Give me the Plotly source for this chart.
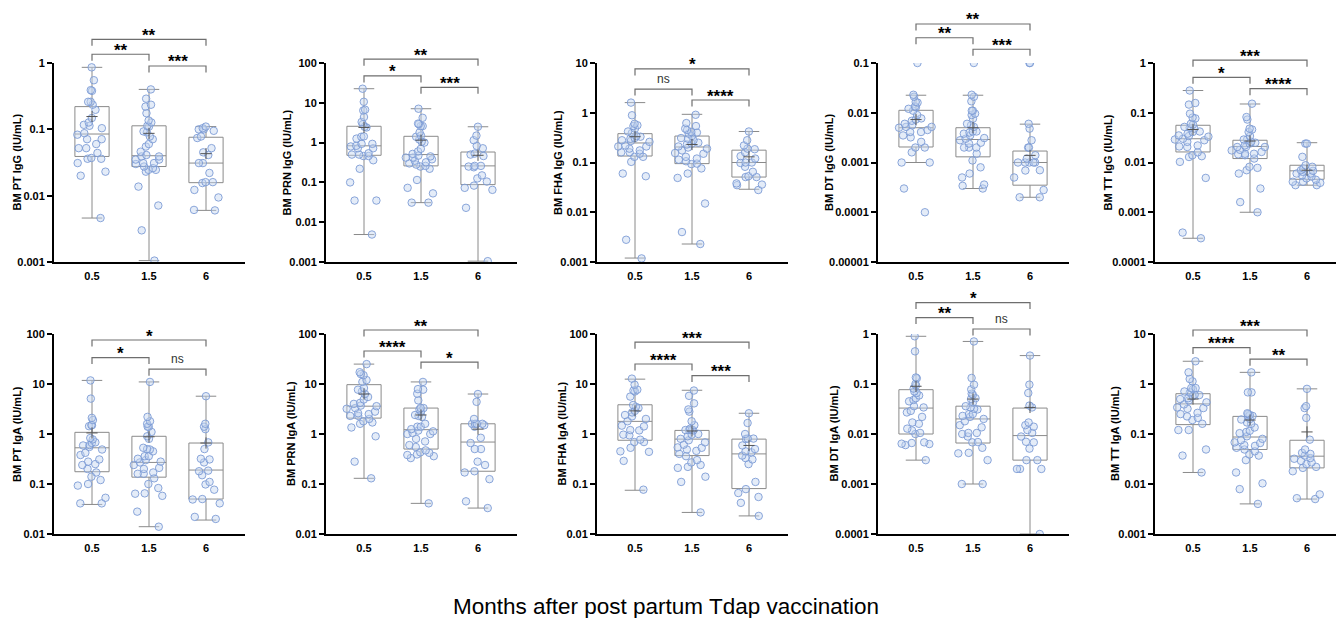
import plotly.graph_objects as go

# ---------------- categories ----------------
months = ["0.5", "1.5", "6"]

# ---------------- BM PT IgG ----------------
pt_igg_05 = [0.86, 0.55, 0.39, 0.38, 0.26, 0.26, 0.235, 0.197, 0.148, 0.127, 0.117, 0.113, 0.104, 0.0875,
             0.083, 0.071, 0.071, 0.06, 0.052, 0.052, 0.044, 0.037, 0.036, 0.036, 0.031, 0.023, 0.020, 0.0046]
pt_igg_15 = [0.40, 0.29, 0.235, 0.22, 0.175, 0.136, 0.127, 0.113, 0.11, 0.093, 0.09, 0.078, 0.071, 0.06, 0.055,
             0.046, 0.041, 0.039, 0.039, 0.035, 0.035, 0.031, 0.031, 0.030, 0.0275, 0.026, 0.0245, 0.0245,
             0.023, 0.0137, 0.0071, 0.0030, 0.00105]
pt_igg_6 = [0.11, 0.104, 0.10, 0.10, 0.095, 0.078, 0.074, 0.052, 0.045, 0.041, 0.031, 0.031, 0.022, 0.016,
            0.016, 0.0155, 0.0122, 0.0094, 0.0061, 0.006]
pt_igg_q1 = [0.039, 0.0275, 0.0157]
pt_igg_med = [0.085, 0.040, 0.031]
pt_igg_q3 = [0.22, 0.113, 0.076]
pt_igg_lo = [0.0046, 0.00105, 0.006]
pt_igg_hi = [0.86, 0.40, 0.11]
pt_igg_mean = [0.156, 0.087, 0.043]
pt_igg_sig = ["**", "**", "***"]

# ---------------- BM PRN IgG ----------------
prn_igg_05 = [22.6, 10.6, 6.7, 6.4, 4.4, 3.3, 2.9, 2.5, 2.4, 1.43, 1.4, 1.26, 0.93, 0.93, 0.83, 0.8, 0.72, 0.72,
              0.54, 0.5, 0.5, 0.46, 0.46, 0.36, 0.22, 0.1, 0.035, 0.035, 0.0049]
prn_igg_15 = [7.1, 4.2, 3.0, 2.9, 2.6, 2.6, 1.8, 1.5, 1.4, 1.2, 1.05, 1.0, 0.7, 0.6, 0.52, 0.47, 0.45, 0.42, 0.42,
              0.38, 0.35, 0.32, 0.30, 0.28, 0.26, 0.25, 0.22, 0.115, 0.073, 0.053, 0.031, 0.031]
prn_igg_6 = [2.5, 1.5, 1.15, 0.83, 0.72, 0.53, 0.5, 0.46, 0.26, 0.25, 0.26, 0.24, 0.15, 0.126, 0.105, 0.083,
             0.073, 0.065, 0.023, 0.00105]
prn_igg_q1 = [0.48, 0.26, 0.088]
prn_igg_med = [0.83, 0.50, 0.26]
prn_igg_q3 = [2.57, 1.44, 0.58]
prn_igg_lo = [0.0049, 0.031, 0.00105]
prn_igg_hi = [22.6, 7.1, 2.5]
prn_igg_mean = [2.4, 1.15, 0.48]
prn_igg_sig = ["**", "*", "***"]

# ---------------- BM FHA IgG ----------------
fha_igg_05 = [1.6, 0.89, 0.6, 0.56, 0.54, 0.48, 0.42, 0.39, 0.34, 0.33, 0.31, 0.30, 0.28, 0.27, 0.26, 0.22, 0.21,
              0.21, 0.19, 0.175, 0.16, 0.16, 0.15, 0.13, 0.13, 0.103, 0.06, 0.053, 0.0028, 0.00118]
fha_igg_15 = [0.91, 0.62, 0.54, 0.48, 0.45, 0.41, 0.40, 0.38, 0.34, 0.31, 0.30, 0.28, 0.25, 0.24, 0.23, 0.21, 0.2,
              0.19, 0.175, 0.155, 0.15, 0.13, 0.12, 0.114, 0.106, 0.095, 0.093, 0.076, 0.06, 0.049, 0.015,
              0.004, 0.0023]
fha_igg_6 = [0.42, 0.28, 0.22, 0.19, 0.185, 0.16, 0.134, 0.12, 0.1, 0.1, 0.098, 0.082, 0.065, 0.053, 0.051, 0.051,
             0.038, 0.036, 0.035, 0.028]
fha_igg_q1 = [0.135, 0.095, 0.051]
fha_igg_med = [0.247, 0.205, 0.10]
fha_igg_q3 = [0.38, 0.34, 0.177]
fha_igg_lo = [0.0012, 0.0023, 0.029]
fha_igg_hi = [1.6, 0.93, 0.42]
fha_igg_mean = [0.33, 0.23, 0.13]
fha_igg_sig = ["*", "ns", "****"]

# ---------------- BM DT IgG ----------------
dt_igg_05 = [0.1, 0.023, 0.021, 0.0165, 0.016, 0.0134, 0.013, 0.012, 0.011, 0.009, 0.0077, 0.0073, 0.0069, 0.006,
             0.0056, 0.0052, 0.005, 0.0052, 0.0045, 0.0041, 0.0041, 0.0035, 0.0032, 0.0026, 0.002, 0.002, 0.0016,
             0.001, 0.001, 0.0003, 0.0001]
dt_igg_15 = [0.1, 0.023, 0.021, 0.017, 0.011, 0.011, 0.0096, 0.009, 0.0076, 0.006, 0.0056, 0.0052, 0.0042, 0.0042,
             0.004, 0.0038, 0.0035, 0.0031, 0.003, 0.0028, 0.0025, 0.0024, 0.002, 0.002, 0.002, 0.0015, 0.0011,
             0.0008, 0.0006, 0.0005, 0.00036, 0.00034, 0.0003]
dt_igg_6 = [0.1, 0.1, 0.006, 0.0048, 0.0028, 0.002, 0.002, 0.0014, 0.0012, 0.001, 0.001, 0.001, 0.001, 0.001,
            0.00069, 0.0007, 0.0005, 0.00028, 0.0002, 0.0002]
dt_igg_q1 = [0.00205, 0.0013, 0.00035]
dt_igg_med = [0.005, 0.0029, 0.001]
dt_igg_q3 = [0.0112, 0.005, 0.0017]
dt_igg_lo = [0.001, 0.0003, 0.0002]
dt_igg_hi = [0.0225, 0.0225, 0.0059]
dt_igg_mean = [0.0073, 0.005, 0.00139]
dt_igg_sig = ["**", "**", "***"]

# ---------------- BM TT IgG ----------------
tt_igg_05 = [0.28, 0.157, 0.146, 0.096, 0.08, 0.077, 0.06, 0.058, 0.052, 0.05, 0.048, 0.042, 0.041, 0.038, 0.035,
             0.034, 0.033, 0.030, 0.029, 0.028, 0.026, 0.022, 0.021, 0.0205, 0.016, 0.014, 0.0134, 0.0129,
             0.0103, 0.0049, 0.00039, 0.0003]
tt_igg_15 = [0.152, 0.082, 0.073, 0.048, 0.046, 0.041, 0.034, 0.029, 0.029, 0.026, 0.025, 0.024, 0.022, 0.0205,
             0.0205, 0.0205, 0.018, 0.0175, 0.0163, 0.015, 0.015, 0.0146, 0.014, 0.012, 0.0082, 0.0078, 0.007,
             0.006, 0.003, 0.0016, 0.001]
tt_igg_6 = [0.024, 0.024, 0.013, 0.0088, 0.0082, 0.0076, 0.007, 0.0068, 0.0065, 0.006, 0.006, 0.0055, 0.0052,
            0.0048, 0.0045, 0.0041, 0.0041, 0.0039, 0.0035, 0.0035]
tt_igg_q1 = [0.0163, 0.012, 0.0046]
tt_igg_med = [0.030, 0.021, 0.0068]
tt_igg_q3 = [0.056, 0.028, 0.0088]
tt_igg_lo = [0.0003, 0.001, 0.0035]
tt_igg_hi = [0.28, 0.15, 0.025]
tt_igg_mean = [0.046, 0.027, 0.007]
tt_igg_sig = ["***", "*", "****"]

# ---------------- BM PT IgA ----------------
pt_iga_05 = [11.8, 5.1, 2.1, 1.9, 1.5, 1.5, 1.43, 0.83, 0.78, 0.68, 0.66, 0.6, 0.59, 0.55, 0.49, 0.42, 0.38, 0.31,
             0.28, 0.25, 0.24, 0.2, 0.17, 0.14, 0.12, 0.1, 0.093, 0.053, 0.041, 0.041]
pt_iga_15 = [11.0, 2.2, 1.8, 1.6, 1.4, 1.4, 1.1, 0.9, 0.8, 0.53, 0.5, 0.49, 0.45, 0.36, 0.36, 0.32, 0.3, 0.28, 0.27,
             0.24, 0.21, 0.2, 0.17, 0.16, 0.16, 0.13, 0.1, 0.083, 0.065, 0.064, 0.058, 0.028, 0.014]
pt_iga_6 = [5.7, 1.6, 1.4, 1.25, 0.68, 0.5, 0.32, 0.31, 0.27, 0.185, 0.18, 0.15, 0.11, 0.098, 0.077, 0.05, 0.049,
            0.041, 0.022, 0.02]
pt_iga_q1 = [0.176, 0.137, 0.05]
pt_iga_med = [0.53, 0.27, 0.19]
pt_iga_q3 = [1.08, 0.9, 0.66]
pt_iga_lo = [0.039, 0.014, 0.019]
pt_iga_hi = [11.8, 11.0, 5.7]
pt_iga_mean = [1.05, 0.88, 0.66]
pt_iga_sig = ["*", "*", "ns"]

# ---------------- BM PRN IgA ----------------
prn_iga_05 = [25, 17.2, 15.8, 15, 12, 11, 8.3, 7.7, 7.1, 6.3, 5.5, 4.9, 4.2, 4.0, 3.7, 3.6, 3.3, 3.2, 2.8, 2.6,
              2.5, 2.3, 2.3, 2.0, 1.8, 1.7, 1.6, 1.35, 0.9, 0.28, 0.13]
prn_iga_15 = [11, 7.9, 7.7, 6.4, 4.7, 3.3, 3.3, 3.1, 2.8, 2.4, 2.3, 2.2, 1.6, 1.4, 1.4, 1.25, 1.17, 1.13, 1.05, 1.0,
              1.0, 0.8, 0.71, 0.6, 0.55, 0.47, 0.43, 0.42, 0.39, 0.38, 0.36, 0.33, 0.041]
prn_iga_6 = [6.3, 4.4, 2.0, 1.6, 1.6, 1.6, 1.6, 1.5, 1.4, 0.84, 0.66, 0.5, 0.5, 0.28, 0.24, 0.18, 0.17, 0.125,
             0.045, 0.033]
prn_iga_q1 = [2.08, 0.5, 0.18]
prn_iga_med = [3.6, 1.22, 0.69]
prn_iga_q3 = [9.7, 3.3, 1.6]
prn_iga_lo = [0.13, 0.041, 0.033]
prn_iga_hi = [25, 11, 6.3]
prn_iga_mean = [6.3, 2.4, 1.25]
prn_iga_sig = ["**", "****", "*"]

# ---------------- BM FHA IgA ----------------
fha_iga_05 = [12.8, 9.7, 7.7, 7.4, 7.1, 5.6, 3.8, 3.5, 3.3, 2.9, 2.7, 2.4, 2.25, 2.0, 1.8, 1.47, 1.42, 1.2, 1.18,
              0.97, 0.94, 0.77, 0.69, 0.69, 0.53, 0.45, 0.44, 0.29, 0.077]
fha_iga_15 = [7.4, 5.8, 4.1, 3.1, 2.8, 1.8, 1.5, 1.28, 1.22, 1.2, 1.2, 1.18, 1.0, 0.97, 0.9, 0.8, 0.75, 0.68, 0.61,
              0.54, 0.53, 0.49, 0.46, 0.4, 0.36, 0.3, 0.27, 0.24, 0.22, 0.21, 0.14, 0.11, 0.027]
fha_iga_6 = [2.6, 1.66, 1.0, 0.81, 0.81, 0.8, 0.59, 0.5, 0.45, 0.43, 0.37, 0.33, 0.31, 0.25, 0.11, 0.079, 0.066,
             0.055, 0.042, 0.023]
fha_iga_q1 = [0.75, 0.37, 0.081]
fha_iga_med = [1.79, 0.79, 0.4]
fha_iga_q3 = [3.84, 1.18, 0.79]
fha_iga_lo = [0.075, 0.027, 0.023]
fha_iga_hi = [12.5, 7.5, 2.6]
fha_iga_mean = [2.9, 1.15, 0.59]
fha_iga_sig = ["***", "****", "***"]

# ---------------- BM DT IgA ----------------
dt_iga_05 = [0.9, 0.45, 0.135, 0.13, 0.1, 0.093, 0.081, 0.071, 0.066, 0.059, 0.052, 0.048, 0.045, 0.036, 0.034,
             0.029, 0.027, 0.022, 0.017, 0.016, 0.0128, 0.0118, 0.0105, 0.01, 0.0068, 0.0066, 0.0064, 0.0063,
             0.006, 0.003]
dt_iga_15 = [0.71, 0.132, 0.097, 0.078, 0.064, 0.061, 0.052, 0.05, 0.043, 0.036, 0.034, 0.032, 0.031, 0.025,
             0.025, 0.023, 0.022, 0.02, 0.018, 0.015, 0.0136, 0.0105, 0.0105, 0.01, 0.0089, 0.0069, 0.0068,
             0.0053, 0.0042, 0.0041, 0.003, 0.001, 0.001]
dt_iga_6 = [0.37, 0.097, 0.066, 0.037, 0.034, 0.017, 0.015, 0.014, 0.012, 0.0105, 0.0089, 0.007, 0.0068, 0.0051,
            0.003, 0.003, 0.002, 0.002, 0.002, 0.0001]
dt_iga_q1 = [0.01, 0.0066, 0.003]
dt_iga_med = [0.033, 0.02, 0.0093]
dt_iga_q3 = [0.077, 0.036, 0.033]
dt_iga_lo = [0.003, 0.001, 0.0001]
dt_iga_hi = [0.9, 0.71, 0.37]
dt_iga_mean = [0.09, 0.05, 0.034]
dt_iga_sig = ["*", "**", "ns"]

# ---------------- BM TT IgA ----------------
tt_iga_05 = [2.85, 1.71, 1.26, 1.13, 0.83, 0.83, 0.79, 0.71, 0.68, 0.61, 0.6, 0.57, 0.52, 0.5, 0.47, 0.43, 0.39,
             0.34, 0.33, 0.32, 0.265, 0.25, 0.225, 0.21, 0.19, 0.16, 0.12, 0.12, 0.049, 0.037, 0.017]
tt_iga_15 = [1.71, 0.68, 0.68, 0.26, 0.25, 0.24, 0.23, 0.225, 0.2, 0.195, 0.17, 0.16, 0.135, 0.116, 0.11, 0.104,
             0.09, 0.08, 0.075, 0.068, 0.066, 0.06, 0.058, 0.053, 0.049, 0.045, 0.039, 0.037, 0.03, 0.017,
             0.0103, 0.0079, 0.004]
tt_iga_6 = [0.8, 0.36, 0.33, 0.21, 0.077, 0.049, 0.042, 0.040, 0.037, 0.033, 0.032, 0.029, 0.027, 0.025, 0.022,
            0.021, 0.018, 0.0062, 0.0052, 0.005]
tt_iga_q1 = [0.154, 0.049, 0.021]
tt_iga_med = [0.4, 0.087, 0.036]
tt_iga_q3 = [0.64, 0.225, 0.075]
tt_iga_lo = [0.017, 0.004, 0.005]
tt_iga_hi = [2.85, 1.71, 0.8]
tt_iga_mean = [0.5, 0.19, 0.11]
tt_iga_sig = ["***", "****", "**"]

# y-axis titles and decade ranges (log10)
y_titles = ["BM PT IgG (IU/mL)", "BM PRN IgG (IU/mL)", "BM FHA IgG (IU/mL)", "BM DT IgG (IU/mL)",
            "BM TT IgG (IU/mL)", "BM PT IgA (IU/mL)", "BM PRN IgA (IU/mL)", "BM FHA IgA (IU/mL)",
            "BM DT IgA (IU/mL)", "BM TT IgA (IU/mL)"]
y_exp_lo = [-3, -3, -3, -5, -4, -2, -2, -2, -4, -3]
y_exp_hi = [0, 2, 1, -1, 0, 2, 2, 2, 0, 1]

panels = [
    (pt_igg_05, pt_igg_15, pt_igg_6, pt_igg_q1, pt_igg_med, pt_igg_q3, pt_igg_lo, pt_igg_hi, pt_igg_mean, pt_igg_sig),
    (prn_igg_05, prn_igg_15, prn_igg_6, prn_igg_q1, prn_igg_med, prn_igg_q3, prn_igg_lo, prn_igg_hi, prn_igg_mean, prn_igg_sig),
    (fha_igg_05, fha_igg_15, fha_igg_6, fha_igg_q1, fha_igg_med, fha_igg_q3, fha_igg_lo, fha_igg_hi, fha_igg_mean, fha_igg_sig),
    (dt_igg_05, dt_igg_15, dt_igg_6, dt_igg_q1, dt_igg_med, dt_igg_q3, dt_igg_lo, dt_igg_hi, dt_igg_mean, dt_igg_sig),
    (tt_igg_05, tt_igg_15, tt_igg_6, tt_igg_q1, tt_igg_med, tt_igg_q3, tt_igg_lo, tt_igg_hi, tt_igg_mean, tt_igg_sig),
    (pt_iga_05, pt_iga_15, pt_iga_6, pt_iga_q1, pt_iga_med, pt_iga_q3, pt_iga_lo, pt_iga_hi, pt_iga_mean, pt_iga_sig),
    (prn_iga_05, prn_iga_15, prn_iga_6, prn_iga_q1, prn_iga_med, prn_iga_q3, prn_iga_lo, prn_iga_hi, prn_iga_mean, prn_iga_sig),
    (fha_iga_05, fha_iga_15, fha_iga_6, fha_iga_q1, fha_iga_med, fha_iga_q3, fha_iga_lo, fha_iga_hi, fha_iga_mean, fha_iga_sig),
    (dt_iga_05, dt_iga_15, dt_iga_6, dt_iga_q1, dt_iga_med, dt_iga_q3, dt_iga_lo, dt_iga_hi, dt_iga_mean, dt_iga_sig),
    (tt_iga_05, tt_iga_15, tt_iga_6, tt_iga_q1, tt_iga_med, tt_iga_q3, tt_iga_lo, tt_iga_hi, tt_iga_mean, tt_iga_sig),
]

# ---------------- layout geometry (pixels) ----------------
W, H = 1336, 618
col_left_px = [54, 326, 597, 878, 1155]
axis_len_px = 191
cat_step_px = 57
first_cat_px = 38
row_top_px = [63, 334]
row_bot_px = [262, 534]
title_offset_px = [37, 39, 38.5, 48.5, 47, 37, 35, 35.5, 44.5, 40]
# bracket heights as fraction of plot height: [0.5 vs 6, 0.5 vs 1.5, 1.5 vs 6]
bracket_y = [
    [1.119, 1.044, 0.985], [1.019, 0.935, 0.878], [0.970, 0.869, 0.814], [1.196, 1.127, 1.069],
    [1.014, 0.928, 0.871], [0.970, 0.882, 0.824], [1.020, 0.915, 0.859], [0.959, 0.850, 0.792],
    [1.157, 1.082, 1.025], [1.020, 0.932, 0.874],
]
pairs = [(0, 2), (0, 1), (1, 2)]

FONT = "Liberation Sans, Arial, Helvetica, sans-serif"
BOX_COLOR = "#8a8a8a"
PT_FILL = "rgba(196,212,240,0.45)"
PT_LINE = "rgba(120,152,212,0.85)"
BRACKET_COLOR = "#6e6e6e"


def dec_label(e):
    if e < 0:
        return "0." + "0" * (-e - 1) + "1"
    return str(10 ** e)


fig = go.Figure()
layout_axes = {}
shapes = []
annotations = []

for k, p in enumerate(panels):
    groups = p[0:3]
    q1, med, q3, lo, hi, mean, sig = p[3:10]
    row, col = divmod(k, 5)
    n = k + 1
    xa = "x" if n == 1 else f"x{n}"
    ya = "y" if n == 1 else f"y{n}"

    for i in range(3):
        fig.add_trace(go.Box(
            x=[i], q1=[q1[i]], median=[med[i]], q3=[q3[i]], lowerfence=[lo[i]], upperfence=[hi[i]],
            width=0.6, whiskerwidth=0.6, fillcolor="rgba(255,255,255,0)",
            line=dict(color=BOX_COLOR, width=1), boxpoints=False,
            xaxis=xa, yaxis=ya, showlegend=False, hoverinfo="skip"))
        fig.add_trace(go.Box(
            x=[i] * len(groups[i]), y=groups[i], boxpoints="all", jitter=1.0, pointpos=0,
            width=0.66, fillcolor="rgba(0,0,0,0)", line=dict(color="rgba(0,0,0,0)", width=0),
            marker=dict(size=7.5, color=PT_FILL, line=dict(color=PT_LINE, width=1)),
            xaxis=xa, yaxis=ya, showlegend=False, hoverinfo="skip"))
    fig.add_trace(go.Scatter(
        x=[0, 1, 2], y=mean, mode="markers",
        marker=dict(symbol="cross-thin", size=8, line=dict(color="#555555", width=1)),
        xaxis=xa, yaxis=ya, showlegend=False, hoverinfo="skip"))

    x0 = col_left_px[col]
    x1 = min(x0 + axis_len_px, W)
    r0 = -first_cat_px / cat_step_px
    r1 = (x1 - x0 - first_cat_px) / cat_step_px
    top, bot = row_top_px[row], row_bot_px[row]
    plot_h = bot - top

    layout_axes["xaxis" if n == 1 else f"xaxis{n}"] = dict(
        domain=[x0 / W, x1 / W], range=[r0, r1], anchor=ya, automargin=False,
        tickmode="array", tickvals=[0, 1, 2], ticktext=months, ticks="", ticklabelstandoff=3,
        showline=True, linewidth=2, linecolor="black", showgrid=False, zeroline=False,
        tickfont=dict(family=FONT, size=11, color="black", weight="bold"), fixedrange=True)
    exps = list(range(y_exp_lo[k], y_exp_hi[k] + 1))
    layout_axes["yaxis" if n == 1 else f"yaxis{n}"] = dict(
        domain=[1 - bot / H, 1 - top / H], type="log", range=[y_exp_lo[k], y_exp_hi[k]], anchor=xa,
        automargin=False,
        tickmode="array", tickvals=[10 ** e for e in exps], ticktext=[dec_label(e) for e in exps],
        ticks="outside", ticklen=5, tickwidth=2, tickcolor="black",
        showline=True, linewidth=2, linecolor="black", showgrid=False, zeroline=False,
        tickfont=dict(family=FONT, size=11, color="black", weight="bold"),
        fixedrange=True)

    # y-axis title
    annotations.append(dict(
        x=0, xref=f"{xa} domain", xshift=-title_offset_px[k], y=0.5, yref=f"{ya} domain",
        text=y_titles[k], textangle=-90, showarrow=False, xanchor="center", yanchor="middle",
        font=dict(family=FONT, size=11, color="black", weight="bold")))

    drop = 6.5 / plot_h
    for j, (a, b) in enumerate(pairs):
        yl = bracket_y[k][j]
        shapes.append(dict(
            type="path", xref=xa, yref=f"{ya} domain",
            path=f"M {a},{yl - drop} L {a},{yl} L {b},{yl} L {b},{yl - drop}",
            line=dict(color=BRACKET_COLOR, width=1.2)))
        is_ns = sig[j] == "ns"
        annotations.append(dict(
            x=(a + b) / 2, xref=xa, y=yl, yref=f"{ya} domain", text=sig[j], showarrow=False,
            yanchor="middle", yshift=10 if is_ns else 4,
            font=dict(family=FONT, size=12 if is_ns else 17, color="#333333" if is_ns else "black",
                      weight="normal" if is_ns else "bold")))

annotations.append(dict(
    x=666 / W, y=1 - 606 / H, xref="paper", yref="paper", text="Months after post partum Tdap vaccination",
    showarrow=False, xanchor="center", yanchor="middle",
    font=dict(family=FONT, size=22.5, color="black")))

fig.update_layout(
    width=W, height=H, margin=dict(l=0, r=0, t=0, b=0, pad=0, autoexpand=False),
    paper_bgcolor="white", plot_bgcolor="white", boxmode="overlay",
    showlegend=False, hovermode=False, shapes=shapes, annotations=annotations,
    **layout_axes)

fig.write_html("out.html", config={"displayModeBar": False})
